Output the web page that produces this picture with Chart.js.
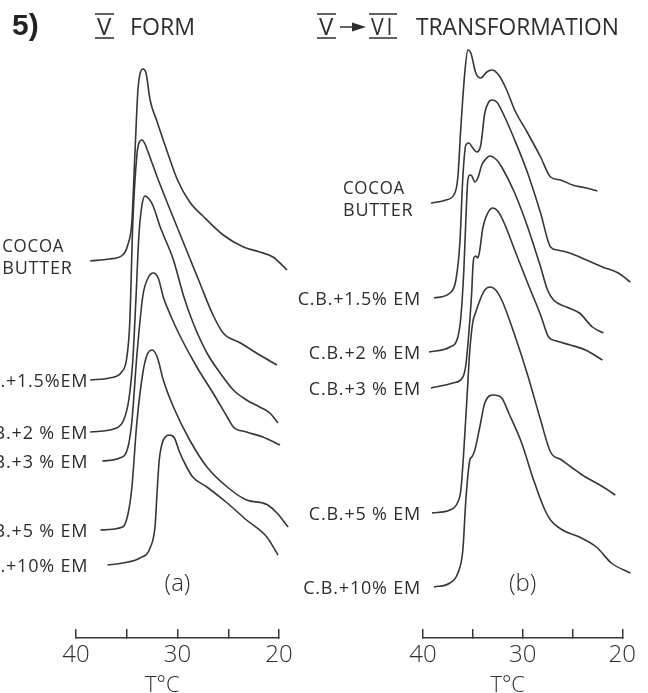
<!DOCTYPE html>
<html>
<head>
<meta charset="utf-8">
<script src="https://cdn.jsdelivr.net/npm/chart.js@4.4.1/dist/chart.umd.min.js"></script>
<style>
  html, body { margin: 0; padding: 0; background: #fff; }
  #wrap { position: relative; width: 648px; height: 693px; overflow: hidden; }
  canvas { position: absolute; left: 0; top: 0; }
</style>
</head>
<body>
<div id="wrap">
  <canvas id="chartA" width="648" height="693"></canvas>
  <canvas id="chartB" width="648" height="693"></canvas>
</div>
<script>
// === DSC melting traces, temperature in °C, signal in arbitrary units (traces offset) ===

// --- (a) V form ---
const namesA = ["COCOA BUTTER", "C.B.+1.5%EM", "C.B.+2 % EM", "C.B.+3 % EM", "C.B.+5 % EM", "C.B.+10% EM"];

const tA0 = [38.6, 36.7, 35.4, 34.9, 34.5, 34.2, 33.9, 33.7, 33.4, 33.1, 32.7, 32.0, 31.0, 30.0, 28.8, 27.5, 25.5, 23.5, 21.9, 20.6, 19.2];
const yA0 = [377, 379, 383, 393, 416, 483, 548, 564, 569, 565, 538, 516, 486, 458, 436, 422, 403, 391, 386, 381, 368];

const tA1 = [38.6, 36.7, 35.5, 35.0, 34.7, 34.4, 34.0, 33.8, 33.5, 33.2, 32.9, 32.0, 31.0, 29.8, 28.8, 27.8, 26.5, 25.5, 23.8, 21.9, 20.2];
const yA1 = [258, 260, 266, 280, 316, 416, 483, 495, 498, 494, 486, 461, 435, 405, 380, 355, 323, 305, 295, 283, 273];

const tA2 = [38.6, 36.0, 35.3, 34.8, 34.4, 34.1, 33.8, 33.5, 33.2, 32.8, 32.4, 31.7, 30.4, 29.4, 28.5, 27.1, 25.8, 24.5, 23.2, 21.9, 20.9, 20.1];
const yA2 = [206, 210, 218, 238, 278, 338, 403, 433, 442, 439, 432, 411, 378, 342, 316, 285, 265, 248, 238, 231, 225, 215];

const tA3 = [37.4, 35.7, 34.9, 34.5, 34.0, 33.4, 32.9, 32.4, 31.9, 31.4, 30.7, 29.8, 28.1, 26.5, 25.1, 24.5, 23.2, 21.6, 19.9];
const yA3 = [177, 180, 190, 216, 283, 343, 360, 365, 360, 341, 323, 303, 271, 245, 221, 211, 206, 201, 193];

const tA4 = [37.6, 35.4, 34.9, 34.5, 34.0, 33.4, 33.0, 32.5, 32.0, 31.4, 30.4, 28.8, 27.1, 25.1, 23.2, 21.6, 21.1, 20.2, 19.1];
const yA4 = [108, 111, 123, 150, 216, 266, 283, 288, 281, 258, 231, 198, 171, 151, 138, 135, 133, 125, 111];

const tA5 = [36.9, 35.4, 33.7, 32.7, 32.2, 32.0, 31.8, 31.5, 31.2, 30.8, 30.3, 29.8, 29.1, 28.5, 27.1, 25.1, 23.2, 21.2, 20.1];
const yA5 = [73, 75, 80, 90, 113, 148, 178, 195, 201, 203, 200, 186, 171, 161, 151, 135, 118, 101, 83];

// --- (b) V -> VI transformation ---
const namesB = ["COCOA BUTTER", "C.B.+1.5% EM", "C.B.+2 % EM", "C.B.+3 % EM", "C.B.+5 % EM", "C.B.+10% EM"];

const tB0 = [39.2, 37.7, 36.8, 36.5, 36.2, 35.8, 35.5, 35.2, 34.7, 34.2, 33.6, 33.1, 32.4, 31.6, 30.8, 29.5, 28.2, 27.2, 26.2, 25.0, 23.6, 22.5];
const yB0 = [435, 438, 445, 461, 511, 566, 588, 585, 565, 560, 566, 568, 563, 548, 528, 505, 481, 461, 458, 453, 450, 447];

const tB1 = [38.9, 37.3, 36.7, 36.3, 36.0, 35.7, 35.4, 35.0, 34.6, 34.2, 33.8, 33.4, 33.1, 32.6, 31.8, 30.8, 29.5, 28.2, 27.2, 26.5, 25.3, 23.6, 22.0, 20.4, 19.2];
const yB1 = [340, 345, 358, 395, 461, 493, 495, 490, 486, 493, 525, 536, 538, 536, 521, 498, 465, 425, 391, 388, 385, 378, 371, 365, 356];

const tB2 = [39.4, 37.3, 36.5, 36.2, 35.9, 35.7, 35.5, 35.3, 35.1, 34.8, 34.5, 34.1, 33.7, 33.3, 32.6, 32.1, 30.8, 29.5, 28.2, 27.5, 26.9, 25.6, 24.3, 23.0, 21.9];
const yB2 = [286, 291, 301, 321, 368, 418, 458, 463, 462, 456, 460, 473, 479, 482, 478, 471, 445, 411, 371, 348, 338, 331, 325, 311, 305];

const tB3 = [39.2, 37.0, 36.0, 35.7, 35.5, 35.3, 35.1, 35.0, 34.9, 34.7, 34.5, 34.3, 34.0, 33.5, 33.0, 32.5, 31.9, 30.8, 29.5, 28.2, 27.4, 26.6, 25.2, 23.7, 22.0];
const yB3 = [250, 255, 261, 273, 293, 318, 348, 370, 380, 382, 380, 388, 410, 425, 430, 427, 416, 388, 355, 323, 301, 297, 293, 288, 278];

const tB4 = [39.1, 37.3, 36.5, 36.2, 35.9, 35.6, 35.3, 35.0, 34.7, 34.2, 33.8, 33.3, 32.8, 32.1, 30.8, 29.5, 28.2, 27.2, 26.1, 25.0, 23.7, 22.6, 21.6, 20.7];
const yB4 = [125, 128, 136, 148, 188, 238, 288, 316, 326, 340, 348, 351, 349, 338, 303, 263, 218, 186, 178, 170, 161, 155, 149, 143];

const tB5 = [38.9, 37.3, 36.5, 36.0, 35.7, 35.3, 35.1, 34.8, 34.3, 33.8, 32.9, 32.1, 31.4, 30.1, 28.9, 27.9, 27.2, 26.0, 24.3, 22.6, 21.1, 19.2];
const yB5 = [51, 55, 65, 88, 138, 178, 181, 188, 211, 235, 243, 240, 225, 195, 158, 131, 118, 108, 101, 91, 75, 65];

// axis tick labels
const tickLabels = [40, 30, 20];

// === styles ===
const INK = "#2e2e2e";
const LINE = "#363636";
const FAMILY = "'Open Sans', 'DejaVu Sans', sans-serif";
const font = (size, weight) => `${weight || 400} ${size}px ${FAMILY}`;

function makeDatasets(names, temps, sigs) {
  return names.map((name, i) => ({
    label: name,
    data: temps[i].map((t, j) => ({ x: t, y: sigs[i][j] })),
    borderColor: LINE,
    borderWidth: 1.6,
    pointRadius: 0,
    fill: false,
    clip: false,
    cubicInterpolationMode: "monotone",
  }));
}

// labels at the start of each trace, panel letter and axis title
const curveLabels = {
  id: "curveLabels",
  afterDatasetsDraw(chart, args, opts) {
    const ctx = chart.ctx;
    const x = chart.scales.x;
    const y = chart.scales.y;
    ctx.save();
    ctx.fillStyle = INK;
    ctx.font = font(18);
    ctx.letterSpacing = "0.8px";
    ctx.textBaseline = "middle";
    chart.data.datasets.forEach((ds, i) => {
      const p0 = ds.data[0];
      const px = x.getPixelForValue(p0.x);
      const py = y.getPixelForValue(p0.y);
      if (i === 0) {
        const words = ds.label.split(" ");
        ctx.textAlign = "left";
        ctx.fillText(words[0], px - 88, py - 14, 62);
        ctx.fillText(words[1], px - 88, py + 8, 75);
      } else {
        ctx.textAlign = "right";
        ctx.fillText(ds.label, x.getPixelForValue(opts.labelEdge), py + 2);
      }
    });
    ctx.letterSpacing = "0px";
    ctx.textAlign = "center";
    ctx.font = font(24, 300);
    ctx.fillText(opts.letter, x.getPixelForValue(30), y.getPixelForValue(54));
    ctx.font = font(22, 300);
    ctx.fillText("T°C", x.getPixelForValue(31.5), x.top + 48);
    ctx.restore();
  },
};

// roman numeral with bars above and below
function roman(ctx, text, left, base, w) {
  ctx.textAlign = "left";
  ctx.fillText(text, left, base, w);
  ctx.beginPath();
  ctx.moveTo(left - 2, base - 21);
  ctx.lineTo(left + w + 2, base - 21);
  ctx.moveTo(left - 2, base + 3);
  ctx.lineTo(left + w + 2, base + 3);
  ctx.stroke();
}

const titleA = {
  id: "titleA",
  afterDraw(chart) {
    const ctx = chart.ctx;
    ctx.save();
    ctx.fillStyle = "#222";
    ctx.strokeStyle = INK;
    ctx.lineWidth = 1.5;
    ctx.textBaseline = "alphabetic";
    ctx.font = "bold 30px 'Liberation Sans', Arial, sans-serif";
    ctx.fillText("5)", 12, 35);
    ctx.fillStyle = INK;
    ctx.font = font(24);
    roman(ctx, "V", 97, 35, 15);
    ctx.fillText("FORM", 130, 35, 65);
    ctx.restore();
  },
};

const titleB = {
  id: "titleB",
  afterDraw(chart) {
    const ctx = chart.ctx;
    ctx.save();
    ctx.fillStyle = INK;
    ctx.strokeStyle = INK;
    ctx.lineWidth = 1.5;
    ctx.textBaseline = "alphabetic";
    ctx.font = font(24);
    roman(ctx, "V", 319, 35, 15);
    // arrow
    ctx.beginPath();
    ctx.moveTo(340, 27);
    ctx.lineTo(355, 27);
    ctx.stroke();
    ctx.beginPath();
    ctx.moveTo(366, 27);
    ctx.lineTo(352, 22.5);
    ctx.lineTo(352, 31.5);
    ctx.closePath();
    ctx.fill();
    ctx.letterSpacing = "3px";
    roman(ctx, "VI", 371, 35, 24);
    ctx.letterSpacing = "0px";
    ctx.fillText("TRANSFORMATION", 416, 35, 203);
    ctx.restore();
  },
};

function makeChart(id, datasets, pad, labelEdge, letter, titlePlugin) {
  return new Chart(document.getElementById(id), {
    type: "line",
    data: { datasets },
    options: {
      responsive: false,
      animation: false,
      events: [],
      layout: { padding: { left: pad[0], right: pad[1], top: 0, bottom: 0 } },
      plugins: {
        legend: { display: false },
        tooltip: { enabled: false },
        curveLabels: { labelEdge, letter },
      },
      scales: {
        x: {
          type: "linear",
          reverse: true,
          min: 20,
          max: 40,
          afterFit: (scale) => { scale.height = 55; },
          ticks: {
            stepSize: 5,
            autoSkip: false,
            maxRotation: 0,
            padding: 12,
            color: INK,
            font: { family: FAMILY, size: 24, weight: 300 },
            callback: (v) => (tickLabels.includes(v) ? String(v) : ""),
          },
          grid: {
            drawOnChartArea: false,
            drawTicks: true,
            tickLength: -9,
            color: LINE,
            lineWidth: 1.5,
          },
          border: { display: true, color: LINE, width: 1.5 },
        },
        y: { display: false, min: 0, max: 638 },
      },
    },
    plugins: [curveLabels, titlePlugin],
  });
}

makeChart(
  "chartA",
  makeDatasets(namesA, [tA0, tA1, tA2, tA3, tA4, tA5], [yA0, yA1, yA2, yA3, yA4, yA5]),
  [76, 369], 38.8, "(a)", titleA
);

makeChart(
  "chartB",
  makeDatasets(namesB, [tB0, tB1, tB2, tB3, tB4, tB5], [yB0, yB1, yB2, yB3, yB4, yB5]),
  [423, 20], 40.2, "(b)", titleB
);
</script>
</body>
</html>
